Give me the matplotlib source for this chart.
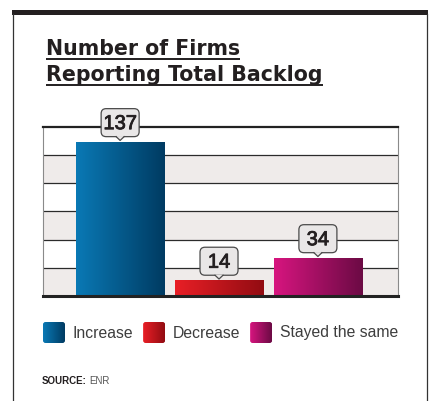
import numpy as np
import matplotlib.pyplot as plt
from matplotlib.patches import FancyBboxPatch, Polygon, Rectangle
from matplotlib.colors import LinearSegmentedColormap
import matplotlib.patheffects as pe

# datos
categorias = ["Increase", "Decrease", "Stayed the same"]
valores = [137, 14, 34]
colores_izq = ["#0a79b5", "#e91f26", "#d7157f"]
colores_der = ["#003b62", "#920c12", "#6b0a44"]
titulo = ["Number of Firms", "Reporting Total Backlog"]
fuente = ("SOURCE:", "ENR")

W, H = 432, 401
plt.rcParams["font.family"] = ["Liberation Sans", "DejaVu Sans"]
fig = plt.figure(figsize=(W / 100, H / 100), dpi=100)
fig.patch.set_facecolor("white")

# ejes principales
ax = fig.add_axes([43 / W, 1 - 296 / H, 355 / W, 169 / H])
for k, y0 in enumerate(range(0, 150, 25)):
    ax.axhspan(y0, y0 + 25, color="#efebea" if k % 2 == 0 else "white", lw=0, zorder=0)
for y in range(25, 150, 25):
    ax.axhline(y, color="#2b2b2b", lw=0.9, zorder=1)
ax.axhline(150, color="#222222", lw=1.6, zorder=3, clip_on=False)
ax.axhline(0, color="#222222", lw=2.2, zorder=3, clip_on=False)

grad = np.linspace(0, 1, 256).reshape(1, -1)
barras = ax.bar(range(len(valores)), valores, width=0.89, color="none", lw=0, zorder=2)
for b, c1, c2 in zip(barras, colores_izq, colores_der):
    cmap = LinearSegmentedColormap.from_list("g", [c1, c2])
    x0, y0 = b.get_x(), b.get_y()
    im = ax.imshow(grad, cmap=cmap, aspect="auto", zorder=2,
                   extent=[x0, x0 + b.get_width(), y0, y0 + b.get_height()])
    im.set_clip_path(b)

ax.set_xlim(-0.78, 2.81)
ax.set_ylim(0, 150)
ax.set_xticks([])
ax.set_yticks([])
for s in ["top", "bottom"]:
    ax.spines[s].set_visible(False)
for s in ["left", "right"]:
    ax.spines[s].set_color("#8a8a8a")
    ax.spines[s].set_linewidth(0.8)

# capa superior en pixeles
ov = fig.add_axes([0, 0, 1, 1], zorder=5)
ov.patch.set_alpha(0)
ov.axis("off")
ov.set_xlim(0, W)
ov.set_ylim(H, 0)

# marco
ov.add_patch(Rectangle((12, 10), 416, 5, color="#231f20", lw=0))
ov.plot([12.5, 12.5], [14, H], color="#333333", lw=0.9)
ov.plot([427, 427], [14, H], color="#333333", lw=0.9)

rend = fig.canvas.get_renderer()
inv = ov.transData.inverted()

# titulo subrayado
for linea, yb, yu in zip(titulo, [55, 81], [58.5, 84.5]):
    t = ov.text(46, yb, linea, fontsize=14.8, fontweight="bold", family="DejaVu Sans",
                color="#231f20", va="baseline", ha="left")
    bb = t.get_window_extent(rend)
    x1 = inv.transform((bb.x1, bb.y0))[0]
    ov.plot([46, x1], [yu, yu], color="#231f20", lw=1.4, solid_capstyle="butt")

# etiquetas tipo globo
for i, v in enumerate(valores):
    px, py = inv.transform(ax.transData.transform((i, v)))
    bw, bh = 38, 28
    top = py - 5 - bh
    ov.add_patch(FancyBboxPatch((px - bw / 2, top), bw, bh,
                                boxstyle="round,pad=0,rounding_size=5",
                                fc="#e9e7e7", ec="#4a4a4a", lw=0.9, zorder=6))
    ov.add_patch(Polygon([(px - 4, py - 5.6), (px + 4, py - 5.6), (px, py - 1.2)],
                         closed=True, fc="#e9e7e7", ec="none", zorder=7))
    ov.plot([px - 4, px, px + 4], [py - 5, py - 1.2, py - 5], color="#4a4a4a", lw=0.9, zorder=7)
    ov.text(px, top + bh / 2 + 1, str(v), fontsize=14.5, color="#231f20",
            ha="center", va="center", zorder=8,
            path_effects=[pe.withStroke(linewidth=0.6, foreground="#231f20")])

# leyenda
x = 43
for nombre, c1, c2 in zip(categorias, colores_izq, colores_der):
    cmap = LinearSegmentedColormap.from_list("g", [c1, c2])
    caja = FancyBboxPatch((x, 322), 22, 21, boxstyle="round,pad=0,rounding_size=2.5",
                          fc="none", ec="none")
    ov.add_patch(caja)
    im = ov.imshow(grad, cmap=cmap, aspect="auto", extent=[x, x + 22, 343, 322], zorder=4)
    im.set_clip_path(caja)
    t = ov.text(x + 30, 333, nombre, fontsize=11.3, color="#3d3d3d", va="center", ha="left")
    bb = t.get_window_extent(rend)
    x = inv.transform((bb.x1, bb.y0))[0] + 9.5

ov.set_xlim(0, W)
ov.set_ylim(H, 0)

# fuente
t = ov.text(42, 384, fuente[0], fontsize=7, fontweight="bold", color="#231f20", va="baseline")
bb = t.get_window_extent(rend)
ov.text(inv.transform((bb.x1, bb.y0))[0] + 2, 384, fuente[1], fontsize=7,
        color="#555555", va="baseline")

fig.savefig("out.png", dpi=100)
